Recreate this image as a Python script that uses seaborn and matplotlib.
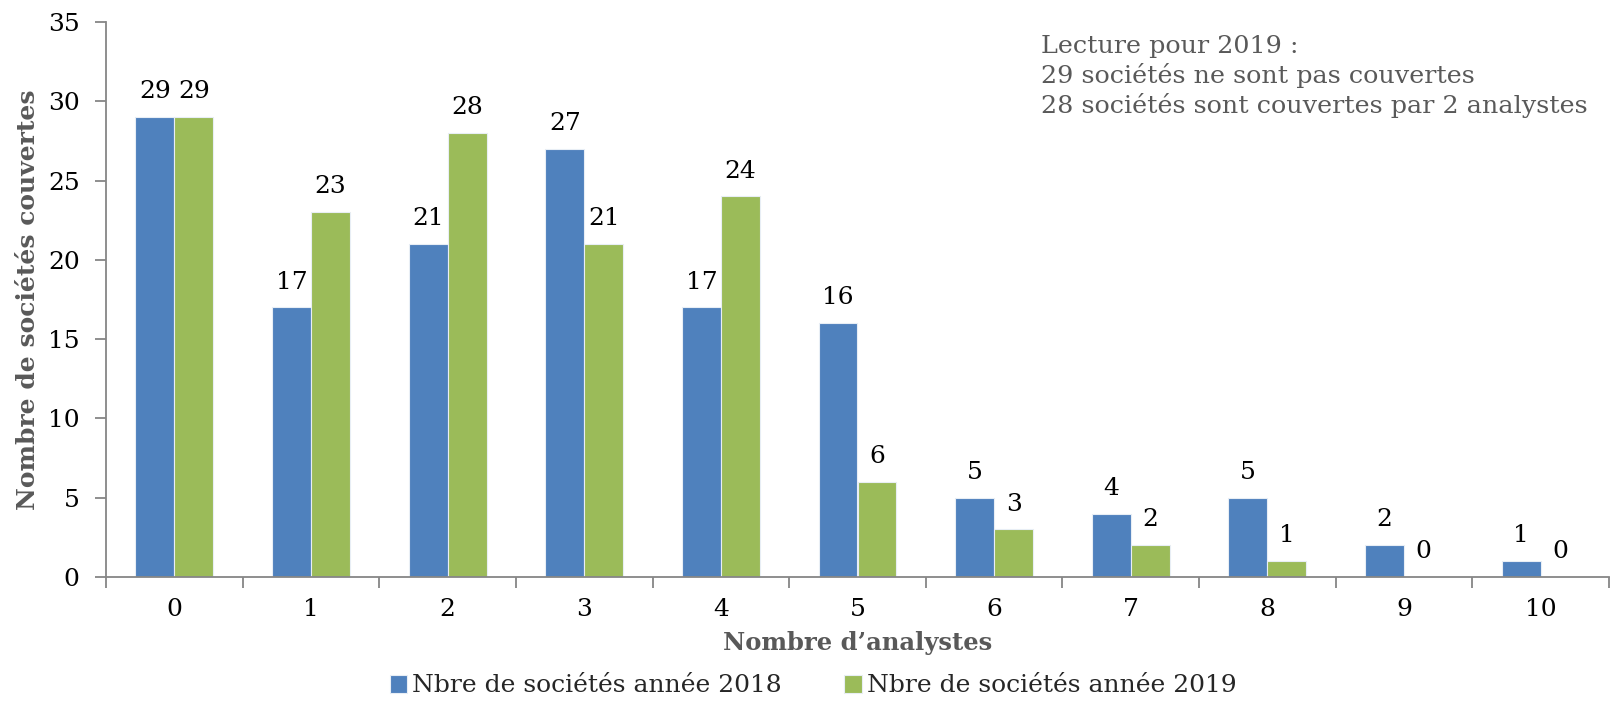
import numpy as np
import pandas as pd
import matplotlib
matplotlib.use("Agg")
import matplotlib.pyplot as plt
import seaborn as sns
from matplotlib.ticker import FixedLocator

categories = ["0", "1", "2", "3", "4", "5", "6", "7", "8", "9", "10"]
values_2018 = [29, 17, 21, 27, 17, 16, 5, 4, 5, 2, 1]
values_2019 = [29, 23, 28, 21, 24, 6, 3, 2, 1, 0, 0]
series_names = ["Nbre de sociétés année 2018", "Nbre de sociétés année 2019"]
colors = ["#4F81BD", "#9BBB59"]
y_ticks = [0, 5, 10, 15, 20, 25, 30, 35]

df = pd.DataFrame({
    "cat": categories * 2,
    "val": values_2018 + values_2019,
    "serie": [series_names[0]] * len(categories) + [series_names[1]] * len(categories),
})

sns.set_theme(style="white")
plt.rcParams["font.family"] = ["DejaVu Serif"]

fig = plt.figure(figsize=(16.11, 7.01), dpi=100)
ax = fig.add_axes([106 / 1611, 1 - 577 / 701, (1609 - 106) / 1611, (577 - 22) / 701])

sns.barplot(data=df, x="cat", y="val", hue="serie", order=categories,
            hue_order=series_names, palette=colors, width=0.57, gap=0,
            edgecolor="#e8eef5", linewidth=0.8, saturation=1, ax=ax, legend=True)

for cont in ax.containers:
    ax.bar_label(cont, padding=10, fontsize=18, color="black")

ax.set_ylim(0, 35)
ax.set_xlim(-0.5, len(categories) - 0.5)
ax.set_yticks(y_ticks)
ax.tick_params(axis="y", labelsize=18, length=8, width=1.3, color="#868686",
               direction="out", left=True, pad=11, labelcolor="black")
ax.tick_params(axis="x", which="major", labelsize=18, length=0, pad=15, labelcolor="black")
ax.xaxis.set_minor_locator(FixedLocator(np.arange(-0.5, len(categories), 1.0)))
ax.tick_params(axis="x", which="minor", length=8, width=1.3, color="#868686",
               direction="out", bottom=True)

for s in ["top", "right"]:
    ax.spines[s].set_visible(False)
for s in ["left", "bottom"]:
    ax.spines[s].set_color("#868686")
    ax.spines[s].set_linewidth(1.3)

ax.set_ylabel("Nombre de sociétés couvertes", fontsize=18, fontweight="bold",
              color="#595959", labelpad=6)
ax.set_xlabel("Nombre d\u2019analystes", fontsize=17.5, fontweight="bold",
              color="#595959", labelpad=7)

fig.text(1041 / 1611, 1 - 77 / 701,
         "Lecture pour 2019 :\n29 sociétés ne sont pas couvertes\n28 sociétés sont couvertes par 2 analystes",
         fontsize=18.3, color="#595959", va="center", ha="left", linespacing=1.25)

handles, labels = ax.get_legend_handles_labels()
ax.get_legend().remove()
fig.legend(handles, labels, loc="center", bbox_to_anchor=(813 / 1611, 1 - 686 / 701),
           ncol=2, frameon=False, fontsize=18, handlelength=0.7, handleheight=0.7,
           handletextpad=0.2, columnspacing=2.5)

fig.savefig("out.png", dpi=100)
